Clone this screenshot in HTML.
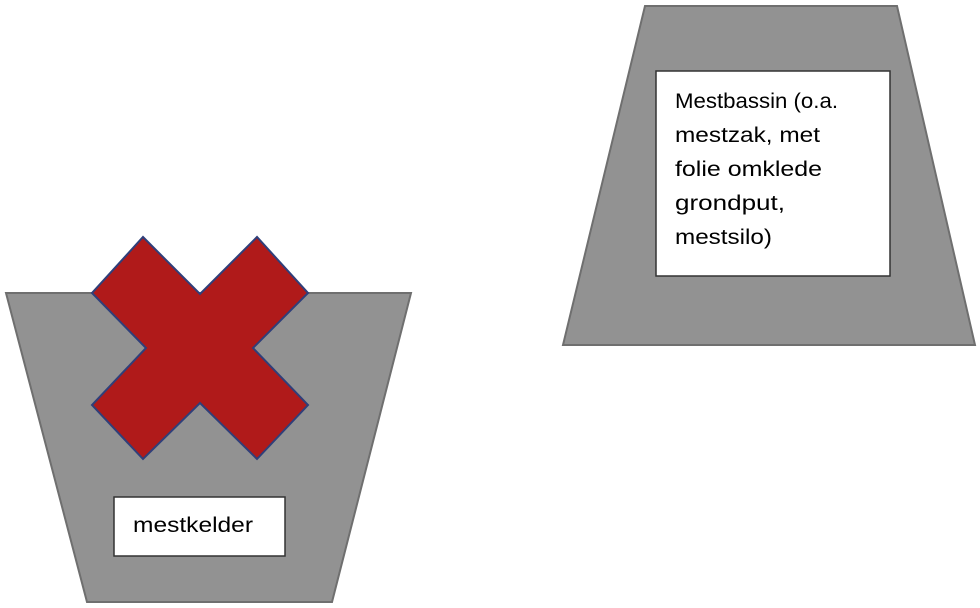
<!DOCTYPE html>
<html><head><style>
html,body{margin:0;padding:0;background:#fff;}
svg{display:block;}
text{font-family:"Liberation Sans",sans-serif;font-size:21px;fill:#000;}
</style></head><body>
<svg width="980" height="608" viewBox="0 0 980 608" xmlns="http://www.w3.org/2000/svg">
<polygon points="6,293 411,293 332,602 87,602" fill="#929292" stroke="#6f6f6f" stroke-width="2"/>
<polygon points="645,6 897,6 975,345 563,345" fill="#929292" stroke="#6f6f6f" stroke-width="2"/>
<polygon points="143,237 200,294 257,237 308,293 253,348 308,405 257,459 200,403 143,459 92,405 146,348 92,293" fill="#b01a1a" stroke="#2f3f7a" stroke-width="2"/>
<rect x="114" y="497" width="171" height="59" fill="#fff" stroke="#333" stroke-width="1.5"/>
<text x="133" y="532" textLength="120" lengthAdjust="spacingAndGlyphs">mestkelder</text>
<rect x="656" y="71" width="234" height="205" fill="#fff" stroke="#333" stroke-width="1.5"/>
<text x="675" y="108" textLength="163" lengthAdjust="spacingAndGlyphs">Mestbassin (o.a.</text>
<text x="675" y="142" textLength="145" lengthAdjust="spacingAndGlyphs">mestzak, met</text>
<text x="675" y="176" textLength="147" lengthAdjust="spacingAndGlyphs">folie omklede</text>
<text x="675" y="210" textLength="110" lengthAdjust="spacingAndGlyphs">grondput,</text>
<text x="675" y="244" textLength="97" lengthAdjust="spacingAndGlyphs">mestsilo)</text>
</svg>
</body></html>
